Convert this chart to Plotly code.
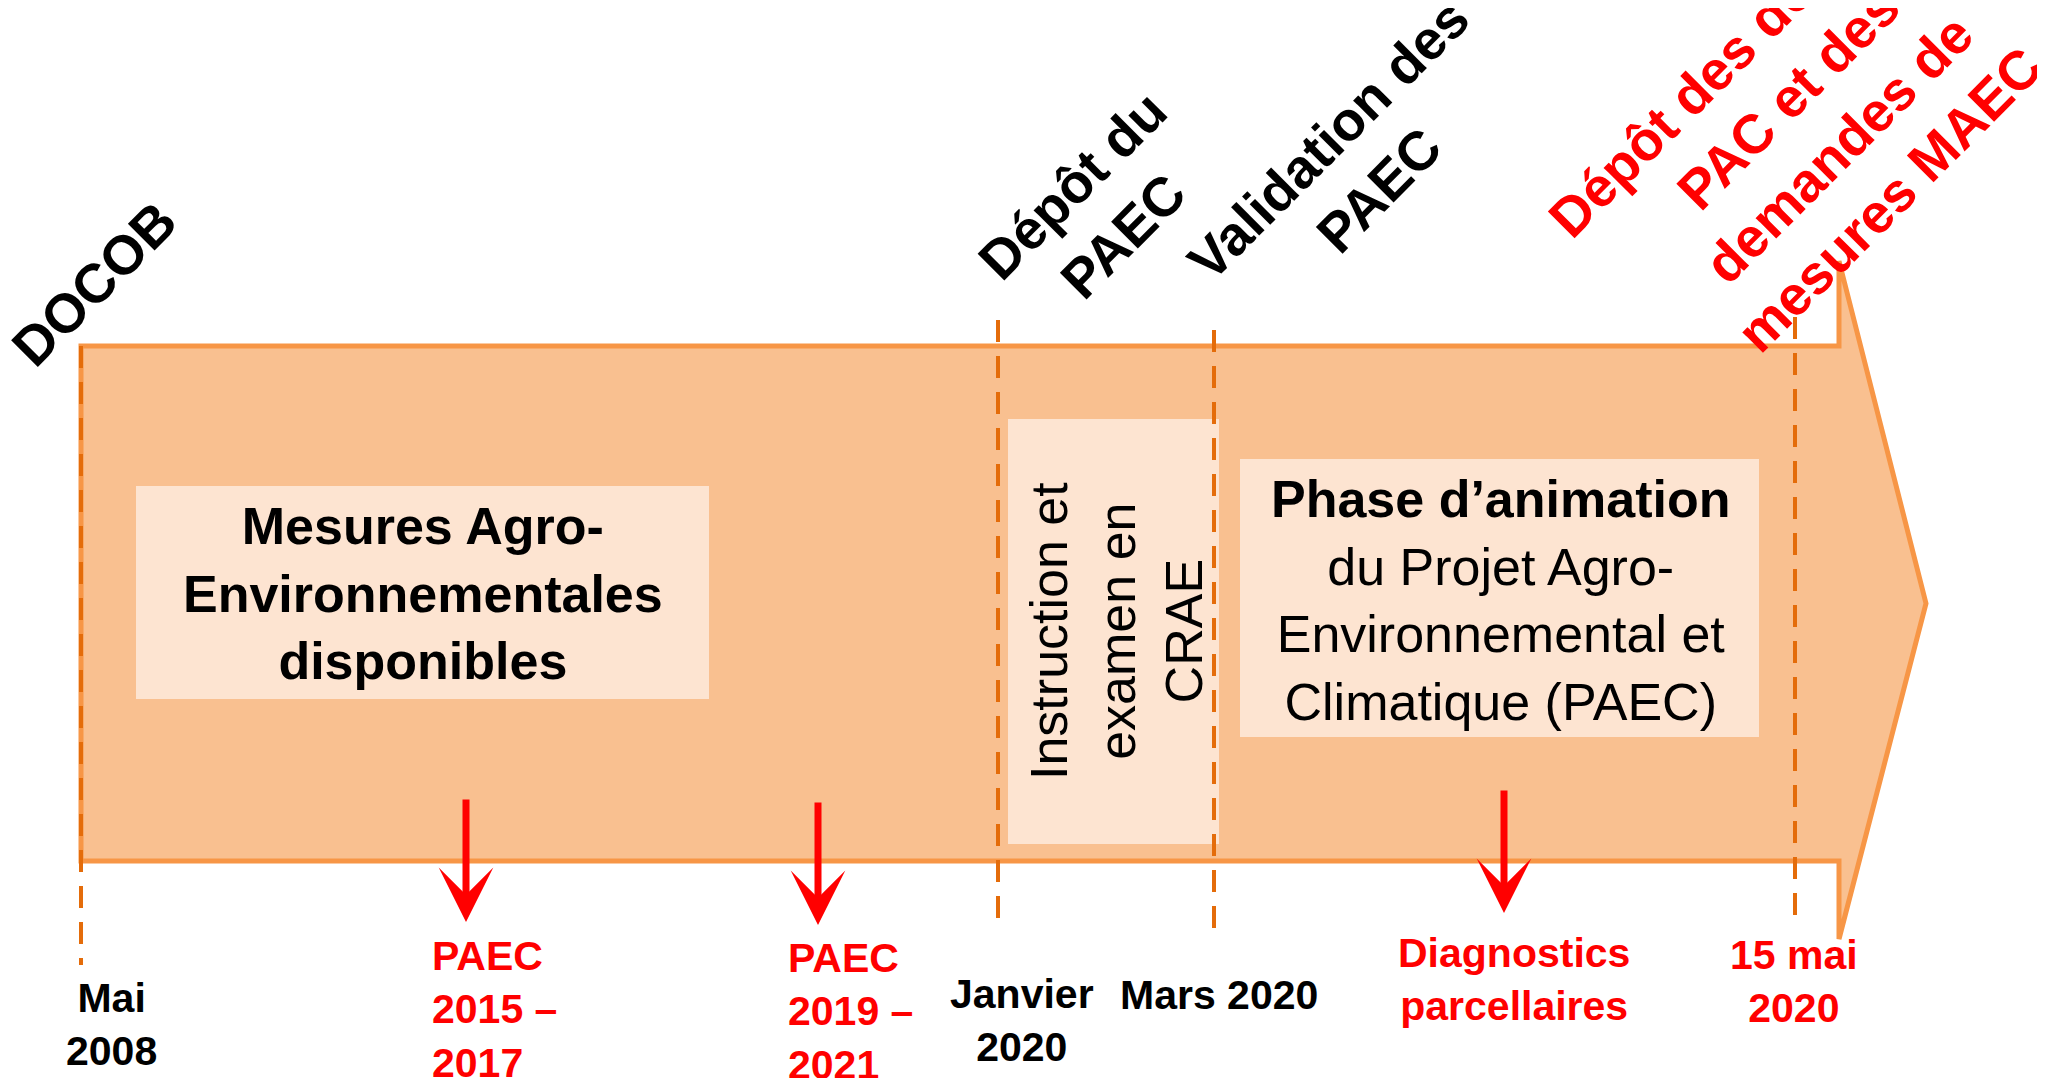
import plotly.graph_objects as go

# ---------------- data ----------------
top_events = ["DOCOB", "Dépôt du<br>PAEC", "Validation des<br>PAEC",
              "Dépôt des dossiers<br>PAC et des<br>demandes de<br>mesures MAEC"]
top_colors = ["#000000", "#000000", "#000000", "#FF0000"]

dates = ["Mai<br>2008", "Janvier<br>2020", "Mars 2020", "15 mai<br>2020"]
date_colors = ["#000000", "#000000", "#000000", "#FF0000"]

milestones = ["PAEC<br>2015 –<br>2017", "PAEC<br>2019 –<br>2021", "Diagnostics<br>parcellaires"]

phases = ["<b>Mesures Agro-<br>Environnementales<br>disponibles</b>",
          "Instruction et<br>examen en<br>CRAE",
          "<b>Phase d’animation</b><br>du Projet Agro-<br>Environnemental et<br>Climatique (PAEC)"]

# ---------------- layout geometry (page-pixel coords) ----------------
W, H = 2045, 1078
OFF = 8  # page body margin
FONT = "Liberation Sans, Arial, sans-serif"

body_l, body_r, body_t, body_b = 81, 1839, 346, 861
head_t, head_b, tip_x = 261, 939, 1926
mid_y = (body_t + body_b) / 2

dash_x = [81, 998, 1214, 1795]
dash_top = [346, 320, 330, 317]
dash_bot = [965, 928, 936, 926]

top_pos = [(94, 284), (1098, 211), (1354, 165), (1813, 124)]
date_pos = [(111, 1024), (1022, 1020), (1219, 995), (1794, 981)]

ms_pos = [(430, 1009, "left"), (786, 1011, "left"), (1514, 979, "center")]
ms_arrow = [(466, 798, 922), (818, 801, 925), (1504, 789, 913)]

box_rects = [(136, 486, 709, 699), (1008, 419, 1219, 844), (1240, 459, 1759, 737)]
box_text = [(423, 593, 0), (1116, 631, -90), (1500, 600, 0)]

fig = go.Figure()

shapes = []
path = (f"M{body_l},{body_t} L{body_r},{body_t} L{body_r},{head_t} L{tip_x},{mid_y} "
        f"L{body_r},{head_b} L{body_r},{body_b} L{body_l},{body_b} Z")
shapes.append(dict(type="path", path=path, xref="x", yref="y",
                   fillcolor="#F9C090", line=dict(color="#F79646", width=5), layer="below"))
for (x0, y0, x1, y1) in box_rects:
    shapes.append(dict(type="rect", x0=x0, y0=y0, x1=x1, y1=y1, xref="x", yref="y",
                       fillcolor="#FDE4D1", line=dict(width=0), layer="below"))
for x, t, b in zip(dash_x, dash_top, dash_bot):
    shapes.append(dict(type="line", x0=x, x1=x, y0=t, y1=b, xref="x", yref="y",
                       line=dict(color="#E46C0A", width=4, dash="22px,14px")))

ann = []
for txt, col, (x, y) in zip(top_events, top_colors, top_pos):
    ann.append(dict(x=x, y=y, xref="x", yref="y", text=f"<b>{txt}</b>", showarrow=False,
                    textangle=-45, font=dict(family=FONT, size=55, color=col),
                    xanchor="center", yanchor="middle", align="center"))
for txt, col, (x, y) in zip(dates, date_colors, date_pos):
    ann.append(dict(x=x, y=y, xref="x", yref="y", text=f"<b>{txt}</b>", showarrow=False,
                    font=dict(family=FONT, size=41, color=col),
                    xanchor="center", yanchor="middle", align="center"))
for txt, (x, y, al) in zip(milestones, ms_pos):
    ann.append(dict(x=x, y=y, xref="x", yref="y", text=f"<b>{txt}</b>", showarrow=False,
                    font=dict(family=FONT, size=41, color="#FF0000"),
                    xanchor=al, yanchor="middle", align=al))
for (x, y0, y1) in ms_arrow:
    ann.append(dict(x=x, y=y1, ax=x, ay=y0, xref="x", yref="y", axref="x", ayref="y",
                    text="", showarrow=True, arrowhead=3, arrowsize=1.3, arrowwidth=7,
                    arrowcolor="#FF0000", standoff=0, startstandoff=0))
for txt, (x, y, ang) in zip(phases, box_text):
    ann.append(dict(x=x, y=y, xref="x", yref="y", text=txt, showarrow=False,
                    textangle=ang, font=dict(family=FONT, size=52, color="#000000"),
                    xanchor="center", yanchor="middle", align="center"))

fig.update_layout(
    width=W - OFF, height=H - OFF, margin=dict(l=0, r=0, t=0, b=0),
    paper_bgcolor="white", plot_bgcolor="white", showlegend=False,
    xaxis=dict(range=[OFF, W], visible=False, fixedrange=True),
    yaxis=dict(range=[H, OFF], visible=False, fixedrange=True),
    shapes=shapes, annotations=ann,
)

fig.write_html("out.html")
